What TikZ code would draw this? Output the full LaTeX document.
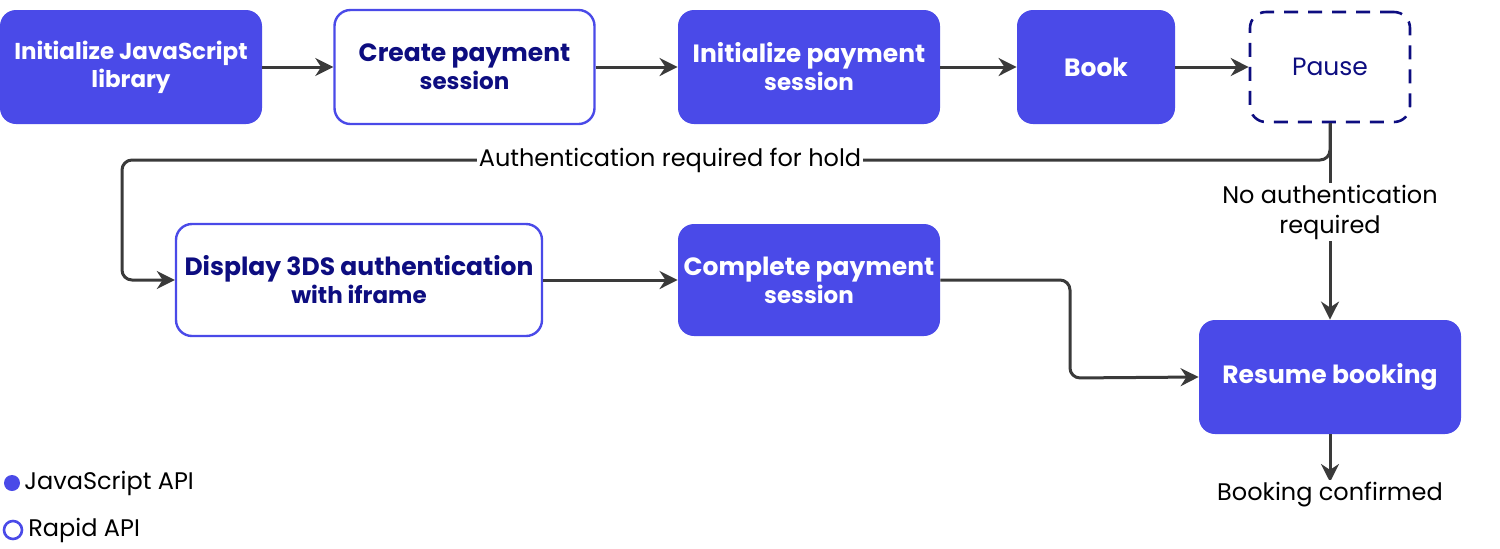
\documentclass[tikz,border=0pt]{standalone}
\usepackage{fontspec}
\setmainfont{Poppins}
\usetikzlibrary{arrows.meta,positioning}
\definecolor{fillb}{HTML}{4A4AE8}
\definecolor{navy}{HTML}{0D0D80}
\definecolor{lin}{HTML}{3A3A3A}
\begin{document}
\begin{tikzpicture}[x=0.5pt,y=-0.5pt,
 base/.style={rounded corners=8pt,align=center,font=\fontsize{11.5}{14}\selectfont\bfseries,inner sep=0pt},
 js/.style={base,fill=fillb,text=white},
 rapid/.style={base,fill=white,draw=fillb,line width=1.2pt,text=navy},
 arr/.style={draw=lin,line width=1.5pt,-{Stealth[length=9pt,width=9pt]},rounded corners=5pt},
 lbl/.style={font=\fontsize{12}{15}\selectfont,text=black,align=center,fill=white,inner sep=1pt}]
\useasboundingbox (0,0) rectangle (1500,548);
\node[js,minimum width=131pt,minimum height=57pt] (a) at (131,67) {Initialize JavaScript\\library};
\node[rapid,minimum width=130pt,minimum height=57pt] (b) at (464.5,67) {\fontsize{12.5}{19}\selectfont Create payment\\session};
\node[js,minimum width=131pt,minimum height=57pt] (c) at (809,67) {\fontsize{12.5}{19}\selectfont Initialize payment\\session};
\node[js,minimum width=79pt,minimum height=57pt] (d) at (1096,67) {\fontsize{12.5}{19}\selectfont Book};
\node[base,draw=navy,dashed,dash pattern=on 7pt off 5pt,line width=1.3pt,minimum width=80pt,minimum height=55pt,text=navy,font=\fontsize{12.5}{15}\selectfont] (p) at (1330,67) {Pause};
\node[rapid,minimum width=183pt,minimum height=56pt] (e) at (359,280) {\fontsize{12.5}{19}\selectfont Display 3DS authentication\\with iframe};
\node[js,minimum width=131pt,minimum height=56pt] (f) at (809,280) {\fontsize{12.5}{19}\selectfont Complete payment\\session};
\node[js,minimum width=131pt,minimum height=57pt] (g) at (1330,377) {\fontsize{12.5}{19}\selectfont Resume booking};
\draw[arr] (a) -- (b);
\draw[arr] (b) -- (c);
\draw[arr] (c) -- (d);
\draw[arr] (d) -- (p);
\coordinate (j) at (1330,160);
\draw[arr] (p.south) -- (j) -- (122,160) -- (122,280) -- (e.west);
\node[lbl] (l1) at (670,160) {Authentication required for hold};
\draw[arr] (p.south) -- (g.north);
\node[lbl] (l2) at (1330,212) {No authentication\\required};
\draw[arr] (e) -- (f);
\draw[arr] (f.east) -- (1070,280) -- (1070,378) -- (g.west);
\coordinate (bc) at (1330,482);
\draw[arr] (g.south) -- (bc);
\node[lbl,anchor=north] (l3) at (1330,480) {Booking confirmed};
\node[circle,fill=fillb,minimum size=8pt,inner sep=0pt] (k1) at (12,483) {};
\node[lbl,anchor=west] (t1) at (22,483) {JavaScript API};
\node[circle,draw=fillb,line width=1.3pt,minimum size=9pt,inner sep=0pt] (k2) at (13,530) {};
\node[lbl,anchor=west] (t2) at (26,530) {Rapid API};
\end{tikzpicture}
\end{document}
